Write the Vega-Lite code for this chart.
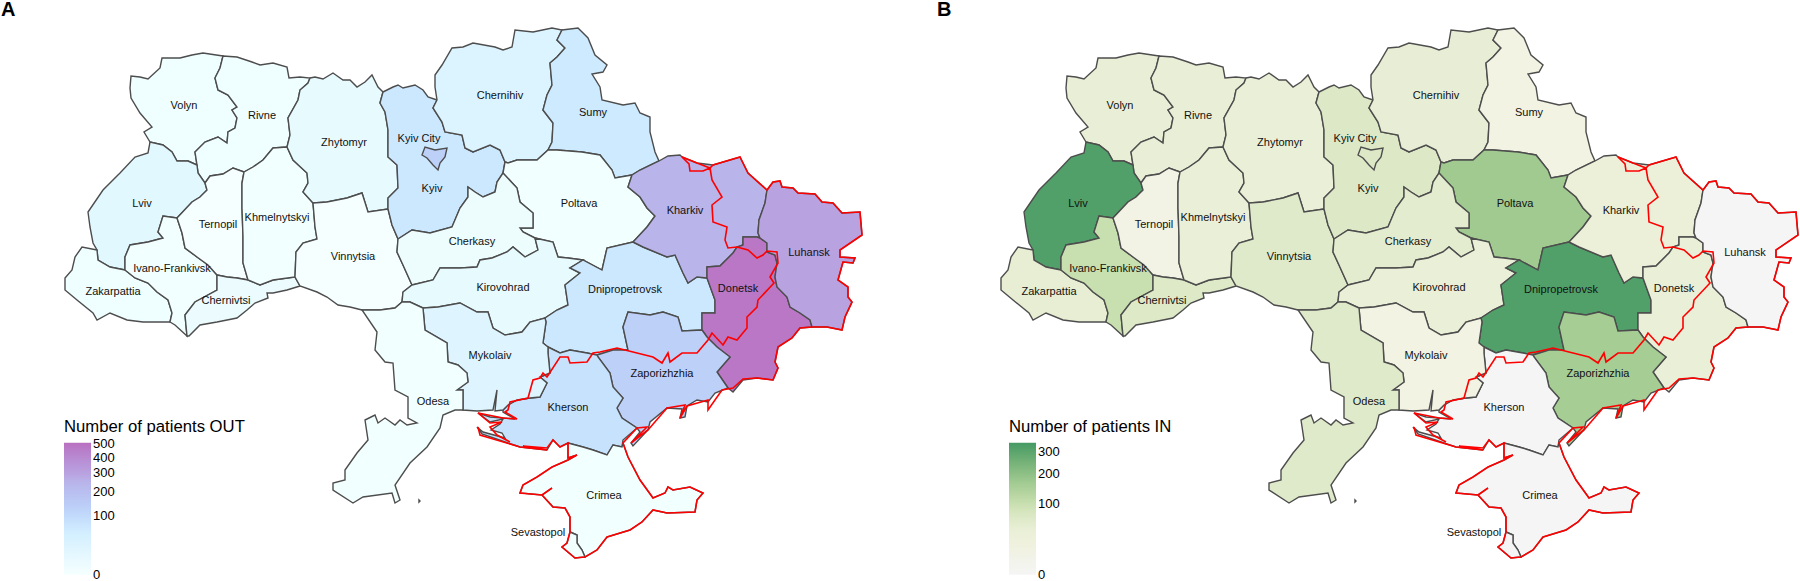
{
"$schema":"https://vega.github.io/schema/vega-lite/v6.json",
"padding":0,"spacing":0,"background":"white",
"resolve":{"scale":{"color":"independent"}},
"config":{"view":{"stroke":null},"font":"Liberation Sans","legend":{"orient":"none","padding":0,"gradientLength":132,"gradientThickness":27,"gradientStrokeWidth":0,"titleFont":"Liberation Sans","titleFontSize":16.7,"titleFontWeight":"normal","titleColor":"#000","titlePadding":7,"labelFont":"Liberation Sans","labelFontSize":13,"labelColor":"#000","labelOffset":9,"labelOverlap":false,"titleLimit":300}},
"datasets":{
"regions":[
{"type":"Feature","properties":{"name":"Volyn","out":12,"in":40},"geometry":{"type":"Polygon","coordinates":[[[22.3,5.6],[20.3,5.3],[19.2,5.5],[18,5.8],[16.2,5.8],[16,6.8],[14.8,7.9],[14,7.7],[13.1,7.6],[13,8.8],[13.1,9.8],[14,11.3],[15.2,12.7],[14.4,13.2],[15,14.2],[16.3,14.5],[17.2,15.2],[17.7,16.1],[18.8,16.1],[19.7,16.5],[19.5,15.2],[20.5,14.2],[21.8,13.7],[22.7,14.3],[22.8,13.2],[23.5,12.8],[23.7,11.8],[23.2,11],[23.7,10.7],[22.8,9.5],[21.8,9],[21.5,7.8],[22,6.8],[22.3,5.6]]]}},
{"type":"Feature","properties":{"name":"Rivne","out":12,"in":40},"geometry":{"type":"Polygon","coordinates":[[[22.3,5.6],[23.7,5.7],[25.2,6.2],[26,6.5],[27.3,6.3],[28.7,6.7],[28.9,7.8],[30,7.7],[31,7.8],[30.8,8.3],[30,9],[29.8,10],[28.8,11.8],[29,13.5],[28.7,14.7],[27.3,14.8],[26.3,16],[25.3,16.7],[24.4,17.2],[23.3,16.8],[22.3,17.4],[21,17.6],[20.5,18.3],[19.8,17.3],[19.7,16.5],[19.5,15.2],[20.5,14.2],[21.8,13.7],[22.7,14.3],[22.8,13.2],[23.5,12.8],[23.7,11.8],[23.2,11],[23.7,10.7],[22.8,9.5],[21.8,9],[21.5,7.8],[22,6.8],[22.3,5.6]]]}},
{"type":"Feature","properties":{"name":"Lviv","out":25,"in":320},"geometry":{"type":"Polygon","coordinates":[[[19.7,16.5],[18.8,16.1],[17.7,16.1],[17.2,15.2],[16.3,14.5],[15,14.2],[14.8,15.3],[13.5,15.7],[12,17.3],[10.3,19],[8.8,21.2],[9,22.7],[9.3,24.3],[9.7,25],[9.8,26],[11,26.7],[12.5,27],[12.5,25.7],[13,24.5],[14.8,24.2],[16.3,23.8],[15.8,23.2],[16.3,21.6],[17.7,21.8],[19.2,20.2],[20,19.7],[20.7,19],[20.5,18.3],[19.8,17.3],[19.7,16.5]]]}},
{"type":"Feature","properties":{"name":"Zakarpattia","out":12,"in":45},"geometry":{"type":"Polygon","coordinates":[[[9.7,25],[8.2,24.7],[7.5,25.7],[7.2,27],[6.5,27.8],[6.5,29],[7.7,30],[9.3,31.3],[9.7,32],[11,31.3],[12.7,32],[14.3,32.2],[17,32.2],[17.2,31.3],[16.8,30],[15.7,29.2],[14.8,28.3],[13.5,27.8],[12.5,27],[11,26.7],[9.8,26],[9.7,25]]]}},
{"type":"Feature","properties":{"name":"Ivano-Frankivsk","out":10,"in":100},"geometry":{"type":"Polygon","coordinates":[[[12.5,27],[13.5,27.8],[14.8,28.3],[15.7,29.2],[16.8,30],[17.2,31.3],[17,32.2],[17.5,32.5],[18.7,33.6],[18.5,31.5],[19.5,30.2],[21.7,29],[21.7,27.5],[20.8,26.5],[19.7,25.7],[18.5,24.8],[18.2,23.3],[17.7,21.8],[16.3,21.6],[15.8,23.2],[16.3,23.8],[14.8,24.2],[13,24.5],[12.5,25.7],[12.5,27]]]}},
{"type":"Feature","properties":{"name":"Ternopil","out":0,"in":8},"geometry":{"type":"Polygon","coordinates":[[[17.7,21.8],[19.2,20.2],[20,19.7],[20.7,19],[20.5,18.3],[21,17.6],[22.3,17.4],[23.3,16.8],[24.4,17.2],[24.2,18.3],[24.2,20.8],[24.3,23.7],[24.3,26.3],[24.8,28],[23.7,27.8],[22.7,27.7],[21.7,27.5],[20.8,26.5],[19.7,25.7],[18.5,24.8],[18.2,23.3],[17.7,21.8]]]}},
{"type":"Feature","properties":{"name":"Chernivtsi","out":15,"in":65},"geometry":{"type":"Polygon","coordinates":[[[21.7,27.5],[22.7,27.7],[23.7,27.8],[24.8,28],[26,28.5],[27.3,28],[29.5,27.7],[30,28.6],[28.7,29],[27.3,29.3],[26.7,29.3],[26.8,29.8],[25.5,30.3],[24.7,31],[23.7,31.8],[21.7,32.2],[20,32.5],[18.9,33.6],[18.7,33.6],[18.5,31.5],[19.5,30.2],[21.7,29],[21.7,27.5]]]}},
{"type":"Feature","properties":{"name":"Khmelnytskyi","out":8,"in":35},"geometry":{"type":"Polygon","coordinates":[[[24.4,17.2],[25.3,16.7],[26.3,16],[27.3,14.8],[28.7,14.7],[29.3,16],[30.7,17.3],[30.8,18.3],[30.3,19.2],[31.3,20.3],[31.5,22.7],[31.7,23.9],[30.3,24.3],[29.6,25.2],[29.5,27.7],[27.3,28],[26,28.5],[24.8,28],[24.3,26.3],[24.3,23.7],[24.2,20.8],[24.2,18.3],[24.4,17.2]]]}},
{"type":"Feature","properties":{"name":"Zhytomyr","out":20,"in":35},"geometry":{"type":"Polygon","coordinates":[[[31,7.8],[31.5,7.7],[32.3,7.9],[33.3,7.3],[34.3,8],[35,8],[35.7,8.7],[36.5,8.2],[37.2,7.5],[37.8,8.7],[38.3,9.2],[38,10.3],[38.5,11.2],[38.8,13],[38.8,15.7],[39.7,16.5],[39.8,18.8],[38.8,19.8],[38.8,20.9],[36.8,21.2],[36.2,19.3],[34.7,19.8],[32.7,20.2],[31.3,20.3],[30.3,19.2],[30.8,18.3],[30.7,17.3],[29.3,16],[28.7,14.7],[29,13.5],[28.8,11.8],[29.8,10],[30,9],[30.8,8.3],[31,7.8]]]}},
{"type":"Feature","properties":{"name":"Vinnytsia","out":0,"in":60},"geometry":{"type":"Polygon","coordinates":[[[31.3,20.3],[32.7,20.2],[34.7,19.8],[36.2,19.3],[36.8,21.2],[38.8,20.9],[39.2,22.5],[39.8,23.9],[39.7,25.2],[40.3,26.5],[41.2,28.5],[40.3,29.2],[40.2,30.2],[39.5,30.8],[38,31],[36.2,31],[35,30.7],[33.8,30.5],[32.7,29.7],[31.7,29.2],[30,28.6],[29.5,27.7],[29.6,25.2],[30.3,24.3],[31.7,23.9],[31.5,22.7],[31.3,20.3]]]}},
{"type":"Feature","properties":{"name":"Kyiv","out":70,"in":68},"geometry":{"type":"Polygon","coordinates":[[[38.3,9.2],[39.3,8.7],[39.8,8.5],[40.3,8.8],[41.5,8.5],[42.3,9],[42.8,9.7],[43.7,10],[43.3,10.8],[44.2,12.2],[44.5,13.2],[46.2,13.5],[46.5,14.8],[47.3,15.2],[49,14.5],[50,15],[50.5,16.2],[50.3,17.3],[49.7,18.2],[49.5,19.2],[48.3,19.7],[47.5,19.2],[46.8,18.7],[46.8,19.7],[46,20.8],[45.2,22.7],[43,23.3],[41.2,23],[39.8,23.9],[39.2,22.5],[38.8,20.9],[38.8,19.8],[39.8,18.8],[39.7,16.5],[38.8,15.7],[38.8,13],[38.5,11.2],[38,10.3],[38.3,9.2]]]}},
{"type":"Feature","properties":{"name":"Kyiv City","out":130,"in":68},"geometry":{"type":"Polygon","coordinates":[[[42.2,15.5],[42.5,14.7],[43.5,15],[44.7,14.8],[44.5,15.7],[44,16.3],[43.8,17],[43.3,16.5],[42.7,15.8],[42.2,15.5]]]}},
{"type":"Feature","properties":{"name":"Chernihiv","out":35,"in":42},"geometry":{"type":"Polygon","coordinates":[[[43.7,10],[43.5,8.7],[43.5,7.5],[44.2,6.5],[45.2,4.8],[46.3,4.7],[47.3,4.3],[49.5,4.7],[50.3,5],[51.2,4.7],[51.5,3],[53.3,3.2],[55.2,2.8],[56.2,3],[55.7,4],[56.5,4.8],[55.7,5.7],[55,6.3],[55.2,8.5],[54.7,9.5],[54.3,11],[55.3,12.3],[55.2,14.2],[54.8,15],[53.7,16],[51.7,16],[50.8,16.3],[50.5,16.2],[50,15],[49,14.5],[47.3,15.2],[46.5,14.8],[46.2,13.5],[44.5,13.2],[44.2,12.2],[43.3,10.8],[43.7,10]]]}},
{"type":"Feature","properties":{"name":"Sumy","out":65,"in":10},"geometry":{"type":"Polygon","coordinates":[[[56.2,3],[57.8,2.8],[58.8,3.8],[59.5,5.5],[60.7,6.5],[60.3,7.2],[59.2,7.4],[60,8.7],[60.2,10],[62.3,10.5],[63.5,10.3],[64,11.3],[65,11.7],[65,13.2],[65.5,15.2],[65.9,16.1],[64,17],[63.2,17.5],[61.5,17.8],[61.2,17],[60,15.5],[58.2,15.2],[55.7,15],[54.8,15],[55.2,14.2],[55.3,12.3],[54.3,11],[54.7,9.5],[55.2,8.5],[55,6.3],[55.7,5.7],[56.5,4.8],[55.7,4],[56.2,3]]]}},
{"type":"Feature","properties":{"name":"Poltava","out":8,"in":170},"geometry":{"type":"Polygon","coordinates":[[[50.5,16.2],[50.8,16.3],[51.7,16],[53.7,16],[54.8,15],[55.7,15],[58.2,15.2],[60,15.5],[61.2,17],[61.5,17.8],[63.2,17.5],[62.8,18.7],[64,19.7],[64.7,20.8],[65.5,21.6],[64.7,22.7],[63.3,24.2],[60.7,24.8],[60.2,27],[58.3,26],[56.8,25.8],[55.8,25.7],[55.3,24.2],[53.5,23.8],[52.3,23.2],[52,22.8],[53.3,22.8],[53.3,21.3],[52,20.2],[51.7,18.8],[50.3,17.3],[50.5,16.2]]]}},
{"type":"Feature","properties":{"name":"Cherkasy","out":14,"in":50},"geometry":{"type":"Polygon","coordinates":[[[39.8,23.9],[41.2,23],[43,23.3],[45.2,22.7],[46,20.8],[46.8,19.7],[46.8,18.7],[47.5,19.2],[48.3,19.7],[49.5,19.2],[49.7,18.2],[50.3,17.3],[51.7,18.8],[52,20.2],[53.3,21.3],[53.3,22.8],[52,22.8],[52.3,23.2],[53.5,23.8],[53.8,25],[52.5,25.7],[51.3,24.7],[50.7,25.2],[49.2,25.8],[48,26],[47.7,26.7],[46,26.8],[44,26.8],[43.3,28],[41.2,28.5],[40.3,26.5],[39.7,25.2],[39.8,23.9]]]}},
{"type":"Feature","properties":{"name":"Kirovohrad","out":20,"in":35},"geometry":{"type":"Polygon","coordinates":[[[41.2,28.5],[43.3,28],[44,26.8],[46,26.8],[47.7,26.7],[48,26],[49.2,25.8],[50.7,25.2],[51.3,24.7],[52.5,25.7],[53.8,25],[53.5,23.8],[55.3,24.2],[55.8,25.7],[56.8,25.8],[58.3,26],[57,26.8],[58,27.3],[56.5,28.5],[56.8,30.5],[55.7,31],[54.5,31.8],[53,32.2],[52.2,33.2],[50.5,33.5],[49.3,32.8],[48.8,31.2],[47.7,31.2],[46,30.3],[43.8,30.7],[42.3,30.8],[41,30.2],[40.2,30.2],[40.3,29.2],[41.2,28.5]]]}},
{"type":"Feature","properties":{"name":"Dnipropetrovsk","out":70,"in":320},"geometry":{"type":"Polygon","coordinates":[[[58.3,26],[60.2,27],[60.7,24.8],[63.3,24.2],[64.3,24.7],[66.7,25.7],[67.5,25.5],[68.3,27.3],[68.8,28.3],[69.7,27.7],[70.7,27.8],[71.5,30],[71.5,31.3],[70.2,31.3],[70.2,33],[68.2,33.1],[67.8,31.7],[66.3,31.2],[65,31.5],[62.8,31.2],[62.3,32.7],[62.8,35],[61.3,35],[59.7,35.5],[58.7,35.3],[57,35],[56,35.3],[54.8,34.7],[54.3,34.3],[54.6,32.2],[54.5,31.8],[55.7,31],[56.8,30.5],[56.5,28.5],[58,27.3],[57,26.8],[58.3,26]]]}},
{"type":"Feature","properties":{"name":"Kharkiv","out":250,"in":30},"geometry":{"type":"Polygon","coordinates":[[[65.9,16.1],[66.8,15.6],[68,15.5],[68.2,15.7],[69.7,16.3],[71.3,16.5],[74,15.7],[74.8,17.3],[76.7,19],[76.5,20.3],[75.9,22],[75.8,23.3],[76,23.8],[75.7,23.7],[74.3,23.7],[74.3,24.5],[73.7,24.7],[73.3,25.3],[72,26.6],[70.7,26.7],[70.7,27.8],[69.7,27.7],[68.8,28.3],[68.3,27.3],[67.5,25.5],[66.7,25.7],[64.3,24.7],[63.3,24.2],[64.7,22.7],[65.5,21.6],[64.7,20.8],[64,19.7],[62.8,18.7],[63.2,17.5],[64,17],[65.9,16.1]]]}},
{"type":"Feature","properties":{"name":"Donetsk","out":480,"in":35},"geometry":{"type":"Polygon","coordinates":[[[70.7,27.8],[70.7,26.7],[72,26.6],[73.3,25.3],[73.7,24.7],[74.3,24.5],[74.3,23.7],[75.7,23.7],[76,23.8],[76.7,24.3],[76.7,25.2],[77.5,25.5],[77.7,26.3],[77.5,27.7],[77.7,28.7],[78.7,29.7],[79,30.7],[80,31.3],[81,32],[81.2,32.7],[80,32.8],[79.2,33.8],[77.8,34.7],[77.5,36.2],[77.8,36.8],[77.3,38],[75.7,37.8],[74.3,38],[73.3,39.2],[72.8,38.8],[71.7,37.2],[73,35.7],[71.7,34.7],[70.7,33.7],[70.2,33],[70.2,31.3],[71.5,31.3],[71.5,30],[70.7,27.8]]]}},
{"type":"Feature","properties":{"name":"Luhansk","out":300,"in":0},"geometry":{"type":"Polygon","coordinates":[[[76,23.8],[75.8,23.3],[75.9,22],[76.5,20.3],[76.7,19],[77.3,18.2],[78,18.1],[78.2,18.7],[79.3,18.8],[79.8,19.3],[81.5,19.4],[82.2,20.2],[83.3,20.3],[84.2,21.3],[86,21.2],[86.2,23.5],[84,25],[84,25.7],[85.5,25.8],[85.3,26.3],[84.3,26.2],[83.8,28],[84.8,28.7],[84.8,29.7],[85.2,30.2],[84.5,31.7],[84.2,33],[82.7,32.7],[81.2,32.7],[81,32],[80,31.3],[79,30.7],[78.7,29.7],[77.7,28.7],[77.5,27.7],[77.7,26.3],[77.5,25.5],[76.7,25.2],[76.7,24.3],[76,23.8]]]}},
{"type":"Feature","properties":{"name":"Zaporizhzhia","out":130,"in":160},"geometry":{"type":"Polygon","coordinates":[[[59.7,35.5],[61.3,35],[62.8,35],[62.3,32.7],[62.8,31.2],[65,31.5],[66.3,31.2],[67.8,31.7],[68.2,33.1],[70.2,33],[70.7,33.7],[71.7,34.7],[73,35.7],[71.7,37.2],[72.8,38.8],[71.5,39.3],[70.8,40.2],[69.7,40],[68.7,40.6],[68.5,41.7],[68,41.8],[68.2,40.9],[66.7,40.8],[65,42.2],[64.8,43],[63.3,44.6],[63.1,44.3],[64,43.2],[63.7,42.8],[62.2,41.8],[61.7,40.8],[62.3,39.8],[61.3,38.7],[61,37.3],[59.8,35.7],[59.7,35.5]]]}},
{"type":"Feature","properties":{"name":"Kherson","out":85,"in":0},"geometry":{"type":"Polygon","coordinates":[[[54.8,34.7],[56,35.3],[57,35],[58.7,35.3],[59.7,35.5],[59.8,35.7],[61,37.3],[61.3,38.7],[62.3,39.8],[61.7,40.8],[62.2,41.8],[63.7,42.8],[62.3,44],[62.2,44.7],[61.3,44.5],[60.7,45.5],[59.3,45],[58.3,44.7],[56.8,44.3],[56,44.7],[55.3,44],[54.7,45],[52,44.7],[50.8,44.3],[48.2,43.4],[47.7,42.7],[48.3,43.2],[50.5,43.8],[50.2,43.3],[49.1,43],[50,42.4],[50.3,41.9],[49,42.2],[47.8,41.3],[49,41.7],[50.3,41.8],[51.5,41.9],[50.3,41.2],[50.3,41],[50.8,40.5],[51.7,40],[53,39.8],[54,39.7],[54.7,38.3],[54,37.7],[55,37.3],[54.8,35.3],[54.8,34.7]]]}},
{"type":"Feature","properties":{"name":"Mykolaiv","out":32,"in":10},"geometry":{"type":"Polygon","coordinates":[[[42.3,30.8],[43.8,30.7],[46,30.3],[47.7,31.2],[48.8,31.2],[49.3,32.8],[50.5,33.5],[52.2,33.2],[53,32.2],[54.5,31.8],[54.6,32.2],[54.3,34.3],[54.8,34.7],[54.8,35.3],[55,37.3],[54,37.7],[54.7,38.3],[54,39.7],[53,39.8],[51.7,40],[50.8,40.5],[50.3,41],[49.5,41.1],[49.7,39],[49.3,41],[47.7,41.1],[46.3,41],[46.3,39],[45.7,39],[46.8,38.2],[46.7,37.3],[45.8,36.5],[44.8,36.2],[44.7,34.3],[42.5,33],[42.3,30.8]]]}},
{"type":"Feature","properties":{"name":"Odesa","out":8,"in":60},"geometry":{"type":"MultiPolygon","coordinates":[[[[40.2,30.2],[41,30.2],[42.3,30.8],[42.5,33],[44.7,34.3],[44.8,36.2],[45.8,36.5],[46.7,37.3],[46.8,38.2],[45.7,39],[46.3,39],[46.3,41],[45.5,41],[44.3,41.5],[44,42.8],[42.7,44.7],[41,46.3],[39.5,48.5],[40,50],[39.5,50.3],[39.2,49.3],[36.3,49.7],[35.3,50.3],[33.3,49],[33.3,48.3],[34.5,48],[34.5,47],[35.7,45.3],[36.8,44],[36.5,42],[37.5,41.5],[37.8,42.3],[38.5,41.8],[39.5,42.5],[40,42],[40.7,42.5],[41.7,42.3],[40.8,41.8],[40.8,39.7],[39.5,39],[39.3,36.3],[38.5,36.2],[37.5,35],[37.7,33.2],[36.2,31],[38,31],[39.5,30.8],[40.2,30.2]]],[[[41.9,50.0],[42.0,50.1],[41.9,50.2],[41.9,50.0]]]]}},
{"type":"Feature","properties":{"name":"Crimea","out":8,"in":0},"geometry":{"type":"Polygon","coordinates":[[[56.8,44.3],[56.8,45.8],[57.7,45.5],[56.8,46],[55.2,46.7],[53.7,47.7],[52.3,48.5],[52,49.3],[54.2,49.5],[55.2,48.8],[54.2,49.5],[55.3,50.7],[56.5,50.8],[57,51.7],[57,53.2],[57.7,53.5],[57.7,54.3],[58.2,55],[58.5,55.7],[59.7,55],[60.7,53.7],[63,53],[64.2,52.2],[65.3,51],[66.7,51.3],[69.5,51.2],[69.7,50],[70.3,49.3],[69,48.7],[67.3,49],[66.8,48.7],[66.5,49.3],[65.3,49.8],[64,48],[62.8,45.7],[62.3,44.3],[62.2,44.7],[61.3,44.5],[60.7,45.5],[59.3,45],[58.3,44.7],[56.8,44.3]]]}},
{"type":"Feature","properties":{"name":"Sevastopol","out":8,"in":0},"geometry":{"type":"Polygon","coordinates":[[[57,53.2],[57.7,53.5],[57.7,54.3],[58.2,55],[58.5,55.7],[57.5,55.8],[56.2,54.7],[56.7,54.3],[57,53.2]]]}}
],
"frontline":[
{"type":"Feature","properties":{"name":"north"},"geometry":{"type":"LineString","coordinates":[[68.2,15.7],[68.9,16.4],[69,17.1],[70.3,17.1],[71,16.8],[71.2,18],[72.2,19.7],[71.2,20.5],[71.3,22.2],[72.7,22.7],[72.5,24],[72.8,24.8],[73.7,24.7],[74.8,25],[75.7,25.8],[76.3,25.5],[76.7,25.1],[77.7,25.2],[77.8,26.3],[77,27.7],[77.4,28.3],[75.8,30],[75.7,30.7],[74.7,31.7],[74.7,32.8],[73.7,34],[72.8,33.7],[72.3,34.5],[71.2,33.3],[70.8,34],[69.7,35.3],[68.2,35.3],[67,36.2],[66.8,35.3],[66.2,36.3],[65.3,35.7],[61.7,34.8],[60,35.2],[59.3,35.3],[58.7,36.2],[57,36.3],[56.8,35.7],[56,35.7],[54.7,37.7],[54.3,37.3],[54,37.8],[53.3,38],[52.8,39.8],[51,40.2],[50.8,41],[50.5,41.2],[51.7,41.9],[50.3,41.8],[47.8,41.3],[49,42.3],[50.2,42.2],[49,42.7],[49.7,43.5],[51,44.2]]}},
{"type":"Feature","properties":{"name":"south"},"geometry":{"type":"LineString","coordinates":[[47.8,42.7],[48,43.5],[52,44.7],[54.7,45],[52.3,44.6],[54.7,44.8],[55.3,44],[56,44.7],[56.8,44.3],[56.8,45.8],[57.7,45.5],[56.8,46],[55.2,46.7],[53.7,47.7],[52.3,48.5],[52,49.3],[54.2,49.5],[55.2,48.8],[54.2,49.5],[55.3,50.7],[56.5,50.8],[57,51.7],[57,53.2],[56.7,54.3],[56.2,54.7],[57.5,55.8],[58.5,55.7],[59.7,55],[60.7,53.7],[63,53],[64.2,52.2],[65.3,51],[66.7,51.3],[69.5,51.2],[69.7,50],[70.3,49.3],[69,48.7],[67.3,49],[66.8,48.7],[66.5,49.3],[65.3,49.8],[64,48],[62.8,45.7],[62.3,44.3],[63.7,42.8],[64.7,42.7],[63.1,44.3],[64.8,43],[66.7,40.8],[68.5,40.5],[68,41.8],[68.7,40.6],[70.8,40],[70.8,41],[72.2,39],[73.3,38.8],[74.3,37.9],[75.7,37.8],[77.3,38],[77.8,36.8],[77.5,36.2],[77.8,34.7],[79.2,33.8],[80,32.8],[81.2,32.7],[82.7,32.7],[84.2,33],[84.5,31.7],[85.2,30.2],[84.8,29.7],[84.8,28.7],[83.8,28],[84.3,26.2],[85.3,26.3],[85.5,25.8],[84,25.7],[84,25],[86.2,23.5],[86,21.2],[84.2,21.3],[83.3,20.3],[82.2,20.2],[81.5,19.4],[79.8,19.3],[79.3,18.8],[78.2,18.7],[78,18.1],[77.3,18.2],[76.7,19],[74.8,17.3],[74,15.7],[71.3,16.5],[71,16.8],[69.7,16.3],[68.2,15.7]]}}
],
"labels":[
{"name":"Volyn","lon":18.4,"lat":10.6},{"name":"Rivne","lon":26.2,"lat":11.6},{"name":"Zhytomyr","lon":34.4,"lat":14.3},{"name":"Lviv","lon":14.2,"lat":20.4},{"name":"Kyiv City","lon":41.9,"lat":13.9},{"name":"Kyiv","lon":43.2,"lat":18.9},{"name":"Chernihiv","lon":50,"lat":9.6},{"name":"Sumy","lon":59.3,"lat":11.3},{"name":"Poltava","lon":57.9,"lat":20.4},{"name":"Kharkiv","lon":68.5,"lat":21.1},{"name":"Luhansk","lon":80.9,"lat":25.3},{"name":"Donetsk","lon":73.8,"lat":28.9},{"name":"Dnipropetrovsk","lon":62.5,"lat":29},{"name":"Zaporizhzhia","lon":66.2,"lat":37.4},{"name":"Kherson","lon":56.8,"lat":40.8},{"name":"Mykolaiv","lon":49,"lat":35.6},{"name":"Odesa","lon":43.3,"lat":40.2},{"name":"Crimea","lon":60.4,"lat":49.6},{"name":"Sevastopol","lon":53.8,"lat":53.3},{"name":"Kirovohrad","lon":50.3,"lat":28.8},{"name":"Cherkasy","lon":47.2,"lat":24.2},{"name":"Vinnytsia","lon":35.3,"lat":25.7},{"name":"Khmelnytskyi","lon":27.7,"lat":21.8},{"name":"Ternopil","lon":21.8,"lat":22.5},{"name":"Ivano-Frankivsk","lon":17.2,"lat":26.9},{"name":"Zakarpattia","lon":11.3,"lat":29.2},{"name":"Chernivtsi","lon":22.6,"lat":30.1}
]},
"hconcat":[
{"width":936,"height":581,
"projection":{"type":"identity","scale":10,"translate":[0,0]},
"layer":[
{"data":{"name":"regions"},"mark":{"type":"geoshape","stroke":"#4d4d4d","strokeWidth":1.4},
"encoding":{"color":{"field":"properties.out","type":"quantitative","title":"Number of patients OUT",
"scale":{"type":"sqrt","domain":[0,10,30,70,130,250,300,510],"range":["#ffffff","#f2ffff","#dff6ff","#cce8ff","#bdd0f8","#b9b4ea","#b9a2e0","#b970c0"],"clamp":true},
"legend":{"values":[0,100,200,300,400,500],"legendX":64,"legendY":419,"encoding":{"labels":{"baseline":{"value":"middle"}}}}}}},
{"data":{"name":"frontline"},"mark":{"type":"geoshape","filled":false,"stroke":"#ff0000","strokeWidth":1.6}},
{"data":{"name":"labels"},"mark":{"type":"text","fontSize":11,"color":"#111","font":"Liberation Sans"},"encoding":{"longitude":{"field":"lon","type":"quantitative"},"latitude":{"field":"lat","type":"quantitative"},"text":{"field":"name"}}},
{"data":{"values":[{"letter":"A","lon":0.1,"lat":1.6}]},"mark":{"type":"text","fontSize":20,"fontWeight":"bold","align":"left","baseline":"alphabetic","color":"#000","font":"Liberation Sans"},"encoding":{"longitude":{"field":"lon","type":"quantitative"},"latitude":{"field":"lat","type":"quantitative"},"text":{"field":"letter"}}}
]},
{"width":864,"height":581,
"projection":{"type":"identity","scale":10,"translate":[0,0]},
"layer":[
{"data":{"name":"regions"},"mark":{"type":"geoshape","stroke":"#4d4d4d","strokeWidth":1.4},
"encoding":{"color":{"field":"properties.in","type":"quantitative","title":"Number of patients IN",
"scale":{"type":"sqrt","domain":[0,10,40,70,100,170,345],"range":["#f5f5f5","#f2f3e2","#e9efd6","#dbe8c5","#c8dfb0","#a0ca90","#449a64"],"clamp":true},
"legend":{"values":[0,100,200,300],"legendX":73,"legendY":419,"encoding":{"labels":{"baseline":{"value":"middle"}}}}}}},
{"data":{"name":"frontline"},"mark":{"type":"geoshape","filled":false,"stroke":"#ff0000","strokeWidth":1.6}},
{"data":{"name":"labels"},"mark":{"type":"text","fontSize":11,"color":"#111","font":"Liberation Sans"},"encoding":{"longitude":{"field":"lon","type":"quantitative"},"latitude":{"field":"lat","type":"quantitative"},"text":{"field":"name"}}},
{"data":{"values":[{"letter":"B","lon":0.1,"lat":1.6}]},"mark":{"type":"text","fontSize":20,"fontWeight":"bold","align":"left","baseline":"alphabetic","color":"#000","font":"Liberation Sans"},"encoding":{"longitude":{"field":"lon","type":"quantitative"},"latitude":{"field":"lat","type":"quantitative"},"text":{"field":"letter"}}}
]}
]
}
